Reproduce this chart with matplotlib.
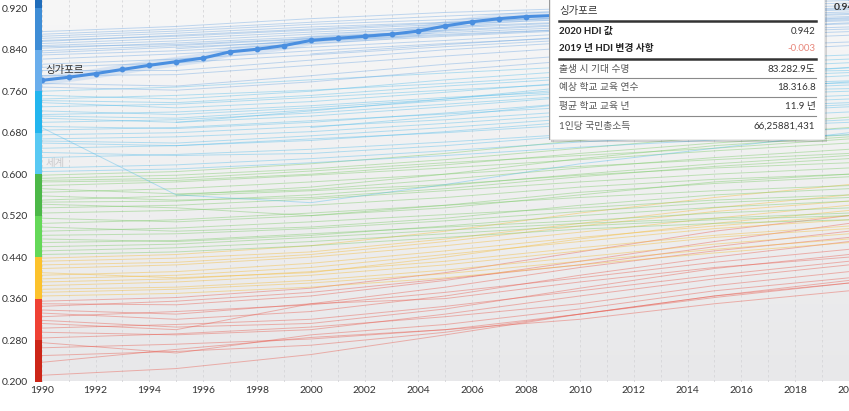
import numpy as np
import matplotlib
matplotlib.use("Agg")
import matplotlib.pyplot as plt
from matplotlib.patches import Rectangle
from matplotlib.colors import LinearSegmentedColormap

plt.rcParams['font.family'] = ['Lato', 'Noto Sans CJK KR', 'DejaVu Sans']

# data: HDI per country, sampled every 5 years (nan = no data)
YEARS = [1990, 1995, 2000, 2005, 2010, 2015, 2020]
nan = np.nan

BLUE_HIGH = [
    [0.875, 0.885, 0.900, 0.912, 0.920, 0.928, 0.935],
    [0.870, 0.880, 0.893, 0.905, 0.915, 0.924, 0.930],
    [0.866, 0.876, 0.889, 0.898, 0.908, 0.918, 0.925],
    [0.862, 0.872, 0.884, 0.893, 0.903, 0.913, 0.921],
    [0.858, 0.866, 0.878, 0.889, 0.899, 0.909, 0.917],
    [0.852, 0.862, 0.874, 0.885, 0.894, 0.905, 0.913],
    [0.848, 0.857, 0.870, 0.882, 0.893, 0.900, 0.908],
    [0.843, 0.853, 0.865, 0.876, 0.888, 0.897, 0.904],
    [0.838, 0.848, 0.861, 0.873, 0.884, 0.893, 0.900],
    [0.830, 0.838, 0.852, 0.866, 0.878, 0.888, 0.896],
    [0.822, 0.832, 0.845, 0.858, 0.872, 0.882, 0.890],
    [0.812, 0.822, 0.838, 0.852, 0.864, 0.876, 0.884],
    [0.800, 0.800, 0.820, 0.840, 0.855, 0.866, 0.875],
    [0.790, 0.792, 0.810, 0.828, 0.845, 0.858, 0.868],
    [0.775, 0.770, 0.790, 0.812, 0.830, 0.845, 0.855],
    [0.768, 0.762, 0.778, 0.800, 0.820, 0.836, 0.848],
    [nan, 0.842, 0.858, 0.870, 0.880, 0.890, 0.898],
    [nan, nan, 0.832, 0.850, 0.866, 0.880, 0.892],
    [0.856, 0.868, 0.880, 0.892, 0.902, 0.912, 0.919],
    [0.846, 0.850, 0.862, 0.878, 0.890, 0.902, 0.910],
    [0.834, 0.845, 0.856, 0.868, 0.880, 0.890, 0.902],
    [0.806, 0.815, 0.830, 0.846, 0.860, 0.872, 0.880],
]

BLUE_LOW = [
    [0.760, 0.768, 0.782, 0.795, 0.808, 0.820, 0.830],
    [0.752, 0.745, 0.760, 0.782, 0.800, 0.812, 0.822],
    [0.745, 0.752, 0.762, 0.775, 0.790, 0.803, 0.815],
    [0.738, 0.728, 0.740, 0.758, 0.778, 0.792, 0.805],
    [0.730, 0.735, 0.748, 0.762, 0.775, 0.786, 0.796],
    [0.722, 0.715, 0.728, 0.745, 0.765, 0.778, 0.790],
    [0.715, 0.720, 0.732, 0.748, 0.760, 0.772, 0.780],
    [0.708, 0.700, 0.712, 0.730, 0.750, 0.762, 0.772],
    [0.700, 0.705, 0.718, 0.735, 0.752, 0.760, 0.765],
    [0.692, 0.688, 0.700, 0.718, 0.738, 0.752, 0.760],
    [0.690, 0.560, 0.545, 0.580, 0.620, 0.650, 0.680],
    [0.685, 0.690, 0.703, 0.716, 0.730, 0.742, 0.752],
    [0.676, 0.680, 0.692, 0.705, 0.722, 0.735, 0.745],
    [0.668, 0.672, 0.682, 0.698, 0.715, 0.728, 0.738],
    [0.660, 0.655, 0.665, 0.682, 0.702, 0.718, 0.730],
    [0.650, 0.655, 0.668, 0.680, 0.696, 0.708, 0.720],
    [0.642, 0.636, 0.640, 0.655, 0.675, 0.692, 0.705],
    [0.632, 0.638, 0.648, 0.662, 0.678, 0.690, 0.700],
    [0.612, 0.618, 0.630, 0.645, 0.662, 0.675, 0.688],
    [0.605, 0.610, 0.622, 0.636, 0.652, 0.666, 0.676],
    [nan, 0.700, 0.722, 0.745, 0.770, 0.790, 0.806],
    [nan, nan, 0.690, 0.712, 0.738, 0.760, 0.778],
    [0.742, 0.738, 0.752, 0.770, 0.785, 0.796, 0.800],
    [0.712, 0.708, 0.724, 0.742, 0.758, 0.770, 0.776],
    [0.664, 0.660, 0.674, 0.690, 0.708, 0.722, 0.734],
]

GREEN = [
    [0.598, 0.605, 0.620, 0.640, 0.665, 0.690, 0.710],
    [0.592, 0.598, 0.610, 0.628, 0.650, 0.672, 0.690],
    [0.585, 0.588, 0.600, 0.618, 0.640, 0.660, 0.676],
    [0.578, 0.585, 0.598, 0.612, 0.628, 0.645, 0.660],
    [0.572, 0.562, 0.570, 0.590, 0.612, 0.632, 0.648],
    [0.565, 0.572, 0.585, 0.600, 0.615, 0.628, 0.640],
    [0.558, 0.550, 0.555, 0.572, 0.595, 0.615, 0.630],
    [0.550, 0.558, 0.568, 0.580, 0.598, 0.612, 0.622],
    [0.542, 0.535, 0.520, 0.535, 0.560, 0.585, 0.600],
    [0.535, 0.540, 0.552, 0.568, 0.585, 0.600, 0.612],
    [0.525, 0.530, 0.540, 0.555, 0.575, 0.590, 0.600],
    [0.515, 0.508, 0.520, 0.540, 0.565, 0.582, 0.595],
    [0.505, 0.512, 0.525, 0.540, 0.555, 0.568, 0.578],
    [0.498, 0.490, 0.498, 0.515, 0.540, 0.560, 0.572],
    [0.490, 0.496, 0.508, 0.522, 0.535, 0.550, 0.560],
    [0.482, 0.485, 0.495, 0.510, 0.528, 0.545, 0.555],
    [0.475, 0.470, 0.482, 0.500, 0.520, 0.536, 0.548],
    [0.468, 0.472, 0.485, 0.498, 0.510, 0.525, 0.535],
    [0.460, 0.465, 0.478, 0.492, 0.505, 0.515, 0.525],
    [0.452, 0.458, 0.470, 0.485, 0.500, 0.512, 0.520],
    [0.445, 0.450, 0.462, 0.478, 0.494, 0.505, 0.512],
    [nan, 0.560, 0.575, 0.600, 0.630, 0.655, 0.672],
    [0.588, 0.592, 0.606, 0.622, 0.636, 0.650, 0.668],
    [0.546, 0.548, 0.560, 0.578, 0.600, 0.620, 0.636],
]

YELLOW = [
    [0.438, 0.445, 0.462, 0.490, 0.525, 0.555, 0.580],
    [0.432, 0.438, 0.450, 0.475, 0.505, 0.535, 0.560],
    [0.425, 0.430, 0.445, 0.470, 0.500, 0.528, 0.548],
    [0.418, 0.425, 0.440, 0.462, 0.488, 0.515, 0.540],
    [0.410, 0.400, 0.410, 0.440, 0.475, 0.505, 0.530],
    [0.405, 0.412, 0.428, 0.452, 0.478, 0.500, 0.520],
    [0.398, 0.405, 0.420, 0.445, 0.470, 0.495, 0.512],
    [0.392, 0.398, 0.412, 0.432, 0.458, 0.482, 0.500],
    [0.385, 0.392, 0.405, 0.425, 0.452, 0.478, 0.495],
    [0.378, 0.382, 0.395, 0.415, 0.440, 0.465, 0.485],
    [0.372, 0.378, 0.390, 0.408, 0.432, 0.455, 0.475],
    [0.365, 0.370, 0.382, 0.400, 0.425, 0.448, 0.468],
]

RED = [
    [0.355, 0.362, 0.380, 0.410, 0.450, 0.490, 0.520],
    [0.350, 0.348, 0.365, 0.395, 0.432, 0.470, 0.505],
    [0.345, 0.355, 0.372, 0.398, 0.425, 0.460, 0.490],
    [0.338, 0.330, 0.350, 0.382, 0.420, 0.452, 0.478],
    [0.332, 0.320, 0.335, 0.365, 0.405, 0.440, 0.470],
    [0.325, 0.335, 0.348, 0.372, 0.400, 0.430, 0.455],
    [0.318, 0.305, 0.312, 0.340, 0.380, 0.418, 0.445],
    [0.312, 0.300, 0.350, 0.360, 0.392, 0.420, 0.440],
    [0.303, 0.310, 0.320, 0.345, 0.375, 0.405, 0.432],
    [0.295, 0.290, 0.300, 0.330, 0.365, 0.398, 0.425],
    [0.284, 0.292, 0.305, 0.325, 0.350, 0.385, 0.412],
    [0.275, 0.255, 0.290, 0.310, 0.340, 0.375, 0.400],
    [0.265, 0.272, 0.282, 0.300, 0.330, 0.365, 0.395],
    [0.250, 0.258, 0.270, 0.295, 0.330, 0.362, 0.390],
    [0.237, 0.262, 0.285, 0.300, 0.320, 0.350, 0.375],
    [0.212, 0.225, 0.252, 0.290, 0.330, 0.365, 0.390],
]

SINGAPORE_YEARS = list(range(1990, 2021))
SINGAPORE_HDI = [0.781, 0.787, 0.794, 0.802, 0.810, 0.817, 0.824, 0.836, 0.841, 0.848,
                 0.858, 0.862, 0.866, 0.870, 0.876, 0.886, 0.894, 0.900, 0.904, 0.906,
                 0.909, 0.914, 0.920, 0.925, 0.928, 0.932, 0.934, 0.936, 0.939, 0.945,
                 0.942]

Y_TICKS = [0.200, 0.280, 0.360, 0.440, 0.520, 0.600, 0.680, 0.760, 0.840, 0.920]
X_TICKS = list(range(1990, 2021, 2))

BAND_EDGES = [0.20, 0.28, 0.36, 0.44, 0.52, 0.60, 0.68, 0.76, 0.84, 0.92, 0.94]
BAND_COLORS = ['#cc2618', '#ef4134', '#fcc22c', '#64d858', '#4cb848',
               '#58c9f3', '#22b5ee', '#6aaeec', '#3e8dd6', '#1f6dbb']

TIP_TITLE = "싱가포르"
TIP_LABELS = ["2020 HDI 값", "2019 년 HDI 변경 사항", "출생 시 기대 수명",
              "예상 학교 교육 연수", "평균 학교 교육 년", "1인당 국민총소득"]
TIP_VALUES = ["0.942", "-0.003", "83.282.9도", "18.316.8", "11.9 년", "66,25881,431"]

W, H = 849, 411
fig = plt.figure(figsize=(W / 100, H / 100), dpi=100)
ax_l, ax_b = 41.7 / W, (H - 381.5) / H
ax = fig.add_axes([ax_l, ax_b, 1 - ax_l, 1 - ax_b])
ax.set_xlim(1990, 2020)
ax.set_ylim(0.2, 0.936)

# background: light at the top, grey at the bottom
grad = np.linspace(0, 1, 256).reshape(-1, 1)
bg = LinearSegmentedColormap.from_list("bg", ["#f7f7f7", "#e8e8ea"])
ax.imshow(grad, cmap=bg, aspect='auto', extent=[1990, 2020, 0.2, 0.936],
          zorder=0, origin='upper')

for yr in range(1990, 2021):
    ax.axvline(yr, color='#d6d6d9', lw=0.6, ls=(0, (3, 3)), zorder=1)

def draw_group(rows, color, alpha):
    for r in rows:
        ax.plot(YEARS, r, color=color, lw=0.7, alpha=alpha, zorder=2,
                solid_joinstyle='round')

draw_group(RED, '#e8574a', 0.42)
draw_group(YELLOW, '#f4bd3c', 0.45)
draw_group(GREEN, '#7fcb6c', 0.45)
draw_group(BLUE_LOW, '#55bdeb', 0.42)
draw_group(BLUE_HIGH, '#6ea7e2', 0.42)

# highlighted country
ax.plot(SINGAPORE_YEARS, SINGAPORE_HDI, color='#5b9be6', lw=7, alpha=0.18, zorder=3)
ax.plot(SINGAPORE_YEARS, SINGAPORE_HDI, color='#4a8fe0', lw=2.2, zorder=4,
        marker='o', ms=3.2)
ax.text(1990.15, 0.800, "싱가포르", fontsize=7.5, color='#333333', va='center',
        ha='left', zorder=5)
ax.text(1990.15, 0.621, "세계", fontsize=7.5, color='#c9c9cc', va='center',
        ha='left', zorder=5)

ax.set_xticks(X_TICKS)
ax.set_yticks(Y_TICKS)
ax.set_yticklabels([f"{v:.3f}" for v in Y_TICKS])
ax.tick_params(axis='both', length=0, labelsize=7.5, labelcolor='#333333')
ax.tick_params(axis='y', pad=10)
ax.tick_params(axis='x', pad=3)
for s in ax.spines.values():
    s.set_visible(False)

# colour strip on the left
bar = fig.add_axes([35 / W, ax_b, 6.7 / W, 1 - ax_b])
bar.set_xlim(0, 1)
bar.set_ylim(0.2, 0.936)
for lo, hi, c in zip(BAND_EDGES[:-1], BAND_EDGES[1:], BAND_COLORS):
    bar.axhspan(lo, hi, color=c, lw=0)
bar.axis('off')

# end label (cut by the edge, as in the original)
fig.text(834 / W, 1 - 7 / H, "0.942", fontsize=7.5, fontweight='bold',
         color='#333333', va='center', ha='left')

# tooltip
tx, ty, tw, th = 549, -3, 276, 143
shadow = fig.add_axes([(tx + 2) / W, (H - ty - th - 2) / H, tw / W, th / H])
shadow.add_patch(Rectangle((0, 0), 1, 1, color='#000000', alpha=0.12))
shadow.axis('off')
tip = fig.add_axes([tx / W, (H - ty - th) / H, tw / W, th / H])
tip.set_xlim(0, tw)
tip.set_ylim(th, 0)
tip.add_patch(Rectangle((0, 0), tw, th, facecolor='white', edgecolor='#9a9a9a',
                        lw=1.0))
tip.axis('off')
oy = -ty
tip.text(10, 10.7 + oy, TIP_TITLE, fontsize=7.5, color='#333333', va='center')
tip.plot([10, 266.5], [20.7 + oy, 20.7 + oy], color='#333333', lw=1.8)
row_y = [31.7, 48.3, 69, 87.7, 106.7, 126]
for i, (lab, val, yy) in enumerate(zip(TIP_LABELS, TIP_VALUES, row_y)):
    bold = i < 2
    tip.text(10, yy + oy, lab, fontsize=7, va='center',
             fontweight='bold' if bold else 'normal',
             color='#222222' if bold else '#555555')
    vcol = '#e8877b' if i == 1 else '#333333'
    tip.text(266.5, yy + oy, val, fontsize=7, va='center', ha='right', color=vcol)
tip.plot([10, 266.5], [59 + oy, 59 + oy], color='#333333', lw=1.8)
for yy in [78.3, 97.3, 116.3]:
    tip.plot([10, 266.5], [yy + oy, yy + oy], color='#8a8a8a', lw=0.8)

fig.savefig("out.png", dpi=100)
